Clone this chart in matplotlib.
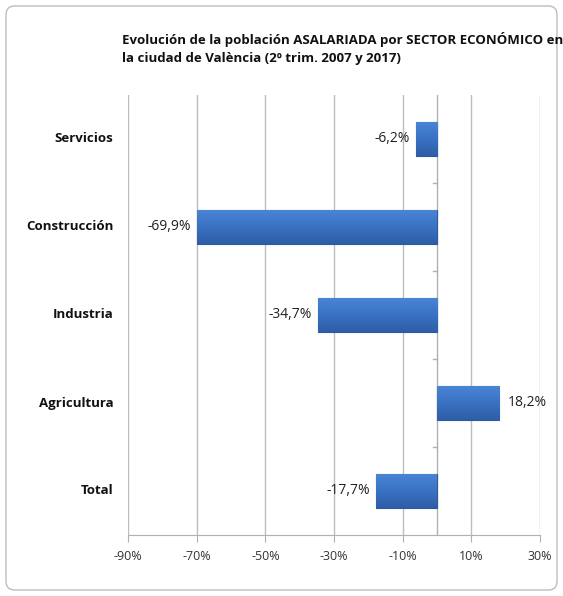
import matplotlib
matplotlib.use("Agg")
import matplotlib.pyplot as plt
import numpy as np
from matplotlib.patches import FancyBboxPatch
from matplotlib.colors import LinearSegmentedColormap
from matplotlib import font_manager

categories = ["Servicios", "Construcción", "Industria", "Agricultura", "Total"]
values = [-6.2, -69.9, -34.7, 18.2, -17.7]
labels = ["-6,2%", "-69,9%", "-34,7%", "18,2%", "-17,7%"]
xticks = [-90, -70, -50, -30, -10, 10, 30]
xticklabels = ["-90%", "-70%", "-50%", "-30%", "-10%", "10%", "30%"]
title = "Evolución de la población ASALARIADA por SECTOR ECONÓMICO en\nla ciudad de València (2º trim. 2007 y 2017)"

names = {f.name for f in font_manager.fontManager.ttflist}
fam = [f for f in ["Liberation Sans Narrow", "Open Sans", "DejaVu Sans"] if f in names] + ["DejaVu Sans"]
plt.rcParams['font.family'] = fam

fig = plt.figure(figsize=(5.63, 5.96), dpi=100)
fig.patches.append(FancyBboxPatch((6/563, 6/596), 551/563, 584/596,
                                  boxstyle="round,pad=0,rounding_size=0.015",
                                  transform=fig.transFigure, fill=False,
                                  edgecolor="#bdbdbd", linewidth=1.0))

ax = fig.add_axes([128/563, 1-535/596, 412/563, 440/596])
ypos = list(range(len(categories)))
bars = ax.barh(ypos, values, height=0.39, color="#3A70C0", edgecolor="#2C5A9A",
               linewidth=0.8, zorder=3)
ax.set_xlim(-90, 30)
ax.set_ylim(len(categories)-0.5, -0.5)

cmap = LinearSegmentedColormap.from_list("barg", ["#4A86D6", "#3A72C2", "#2E5E A8".replace(" ", "")])
grad = np.linspace(0, 1, 64).reshape(-1, 1)
for b in bars:
    x0, y0 = b.get_x(), b.get_y()
    w, h = b.get_width(), b.get_height()
    im = ax.imshow(grad, extent=(x0, x0 + w, y0 + h, y0), cmap=cmap, aspect="auto",
                   zorder=3.5, origin="upper")
    im.set_clip_path(b)
ax.set_xlim(-90, 30)
ax.set_ylim(len(categories)-0.5, -0.5)
ax.set_aspect("auto")

ax.set_xticks(xticks)
ax.set_xticklabels(xticklabels, fontsize=9, color="#333333")
ax.set_yticks([])
ax.grid(axis="x", color="#bdbdbd", linewidth=1.0, zorder=0)
for s in ["top", "right", "left"]:
    ax.spines[s].set_visible(False)
ax.spines["bottom"].set_color("#b0b0b0")
ax.tick_params(axis="x", direction="out", length=5, color="#b0b0b0", pad=6)

ax.axvline(0, color="#b0b0b0", linewidth=1.0, zorder=2)
for bd in [0.5, 1.5, 2.5, 3.5]:
    ax.plot([-1.2, 0], [bd, bd], color="#b0b0b0", linewidth=1.0, zorder=2)

for y, v, lab in zip(ypos, values, labels):
    if v < 0:
        ax.text(v - 1.8, y, lab, ha="right", va="center", fontsize=10, color="#222222", zorder=4)
    else:
        ax.text(v + 2.5, y, lab, ha="left", va="center", fontsize=10, color="#222222", zorder=4)

for y, c in zip(ypos, categories):
    ax.text(-0.035, y, c, transform=ax.get_yaxis_transform(), ha="right", va="center",
            fontsize=9.5, fontweight="bold", color="#111111")

fig.text(122/563, 1-32/596, title, ha="left", va="top", fontsize=9.5,
         fontweight="bold", color="#111111", linespacing=1.5)

fig.savefig("out.png", dpi=100)
